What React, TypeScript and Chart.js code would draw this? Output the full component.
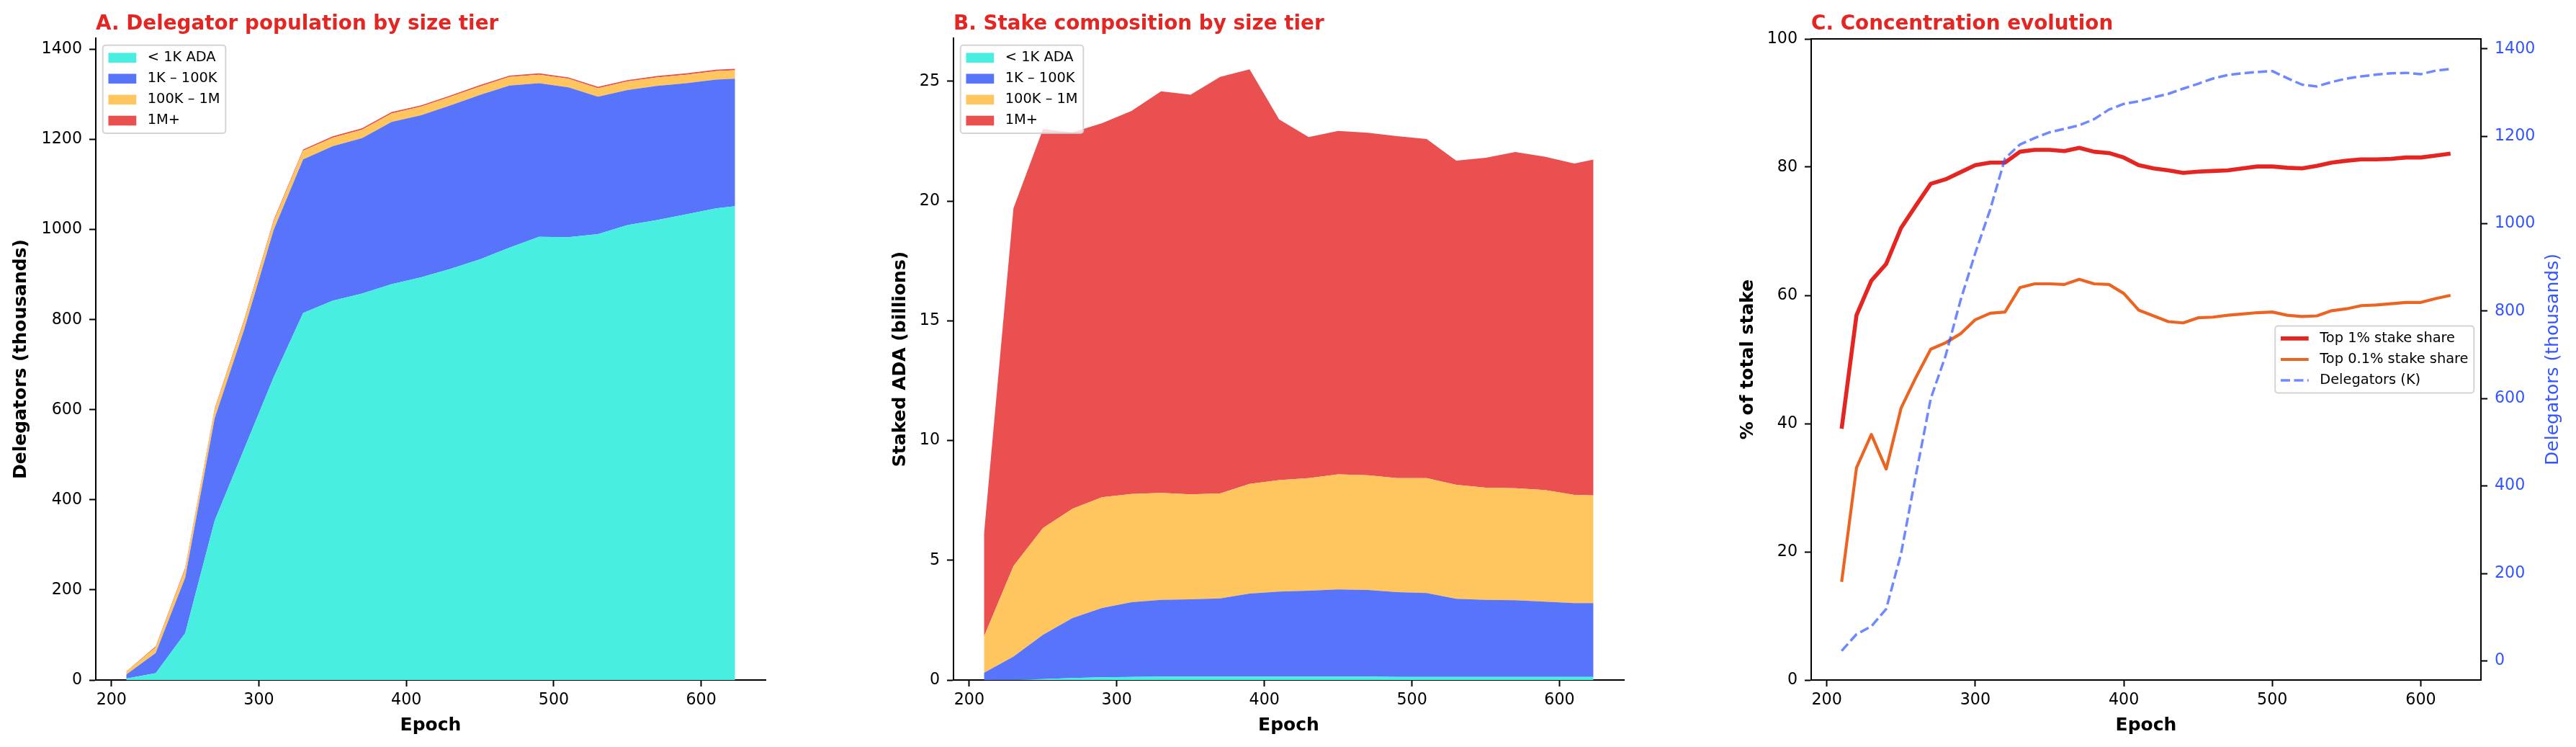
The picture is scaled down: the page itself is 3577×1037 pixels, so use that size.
import React, { useEffect, useRef } from "react";
import Chart from "chart.js/auto";

const FONT = "'DejaVu Sans', 'Liberation Sans', sans-serif";
const HEIGHT = 1037;
const PLOT_BOTTOM = 944;

// tier breakdowns are sampled every 20 epochs (plus the last epoch)
const tierEpochs = [
  210, 230, 250, 270, 290, 310, 330, 350, 370, 390, 410, 430, 450, 470, 490,
  510, 530, 550, 570, 590, 610, 623,
];
const tierLabels = ["< 1K ADA", "1K – 100K", "100K – 1M", "1M+"];

// A. delegators per tier (thousands)
const delegSmall = [
  3, 15, 104, 354, 513, 672, 815, 842, 858, 879, 894, 913, 934, 960, 984, 983,
  990, 1010, 1021, 1034, 1047, 1052,
];
const delegMid = [
  9, 45, 123, 227, 265, 327, 341, 343, 345, 360, 360, 363, 365, 360, 341, 333,
  305, 300, 298, 291, 286, 283,
];
const delegLarge = [
  6, 12.6, 19, 19, 19, 19, 19, 19, 19, 19, 19, 19, 19, 19, 19, 19, 19, 19, 19,
  19, 19, 19,
];
const delegWhale = [
  0.8, 2, 3, 3, 3, 3, 3, 3, 3, 3, 3, 3, 3, 3, 3, 3, 3, 3, 3, 3, 3, 3,
];

// B. staked ADA per tier (billions)
const stakeSmall = [
  0.0, 0.01, 0.04, 0.08, 0.11, 0.13, 0.14, 0.14, 0.14, 0.14, 0.14, 0.14, 0.14,
  0.14, 0.13, 0.13, 0.13, 0.13, 0.13, 0.13, 0.13, 0.13,
];
const stakeMid = [
  0.3, 0.97, 1.85, 2.51, 2.9, 3.12, 3.21, 3.23, 3.27, 3.47, 3.55, 3.59, 3.64,
  3.62, 3.54, 3.5, 3.26, 3.22, 3.2, 3.14, 3.08, 3.08,
];
const stakeLarge = [
  1.51, 3.78, 4.46, 4.56, 4.62, 4.52, 4.46, 4.38, 4.38, 4.58, 4.66, 4.7, 4.81,
  4.79, 4.76, 4.8, 4.76, 4.68, 4.68, 4.66, 4.52, 4.5,
];
const stakeWhale = [
  4.27, 14.94, 16.65, 15.72, 15.62, 15.99, 16.77, 16.69, 17.39, 17.31, 15.06,
  14.24, 14.34, 14.3, 14.28, 14.16, 13.54, 13.78, 14.04, 13.92, 13.84, 14.02,
];

// C. concentration, every 10 epochs
const concEpochs = [
  210, 220, 230, 240, 250, 260, 270, 280, 290, 300, 310, 320, 330, 340, 350,
  360, 370, 380, 390, 400, 410, 420, 430, 440, 450, 460, 470, 480, 490, 500,
  510, 520, 530, 540, 550, 560, 570, 580, 590, 600, 610, 620,
];
const top1Share = [
  39.2, 56.9, 62.3, 64.9, 70.5, 74.0, 77.4, 78.1, 79.2, 80.3, 80.7, 80.7, 82.4,
  82.7, 82.7, 82.5, 83.0, 82.4, 82.2, 81.5, 80.3, 79.8, 79.5, 79.1, 79.3, 79.4,
  79.5, 79.8, 80.1, 80.1, 79.9, 79.8, 80.2, 80.7, 81.0, 81.2, 81.2, 81.3, 81.5,
  81.5, 81.8, 82.1,
];
const top01Share = [
  15.3, 33.1, 38.3, 32.9, 42.4, 47.2, 51.6, 52.6, 54.0, 56.2, 57.2, 57.4, 61.2,
  61.8, 61.8, 61.7, 62.5, 61.8, 61.7, 60.3, 57.7, 56.8, 55.9, 55.7, 56.5, 56.6,
  56.9, 57.1, 57.3, 57.4, 56.9, 56.7, 56.8, 57.6, 57.9, 58.4, 58.5, 58.7, 58.9,
  58.9, 59.5, 60.0,
];
const delegatorsK = [
  23, 61, 79, 119, 245, 425, 600, 698, 824, 933, 1032, 1149, 1181, 1196, 1209,
  1217, 1225, 1239, 1261, 1274, 1280, 1289, 1297, 1309, 1320, 1332, 1340, 1344,
  1347, 1349, 1333, 1318, 1314, 1324, 1332, 1337, 1341, 1344, 1345, 1342, 1350,
  1354,
];

const TIER_COLORS = ["#48eedf", "#5874fa", "#ffc55f", "#ea5050"];
const TITLE_RED = "#e42522";
const TOP1_RED = "#e42522";
const TOP01_ORANGE = "#ec6422";
const AXIS_BLUE = "#3355ff";

const tickFont = { family: FONT, size: 22.2 };
const labelFont = { family: FONT, size: 25, weight: "bold" as const, lineHeight: 1.2 };

const toPoints = (xs: number[], ys: number[]) => xs.map((x, i) => ({ x, y: ys[i] }));

// ticks at every multiple of step inside [min, max]
const fixedTicks = (step: number) => (scale: any) => {
  const out: { value: number }[] = [];
  for (let v = Math.ceil(scale.min / step) * step; v <= scale.max + 1e-9; v += step) {
    out.push({ value: Math.round(v * 1000) / 1000 });
  }
  scale.ticks = out;
};

type LegendEntry = {
  label: string;
  color: string;
  kind: "patch" | "line";
  width?: number;
  dash?: number[];
};

const legendPlugin = (entries: LegendEntry[], anchor: "upper left" | "center right") => ({
  id: "panelLegend",
  afterDraw(chart: any) {
    const { ctx, chartArea } = chart;
    const fs = 19.4;
    const pad = 0.4 * fs;
    const handle = 2 * fs;
    const gap = 0.8 * fs;
    const spacing = 0.5 * fs;
    ctx.save();
    ctx.font = `${fs}px ${FONT}`;
    const textW = Math.max(...entries.map((e) => ctx.measureText(e.label).width));
    const w = pad * 2 + handle + gap + textW;
    const h = pad * 2 + entries.length * fs + (entries.length - 1) * spacing;
    let x = chartArea.left + 0.5 * fs;
    let y = chartArea.top + 0.5 * fs;
    if (anchor === "center right") {
      x = chartArea.right - 0.5 * fs - w;
      y = (chartArea.top + chartArea.bottom) / 2 - h / 2;
    }
    ctx.beginPath();
    ctx.roundRect(x, y, w, h, 4);
    ctx.fillStyle = "rgba(255,255,255,0.8)";
    ctx.fill();
    ctx.lineWidth = 2;
    ctx.strokeStyle = "rgba(204,204,204,0.85)";
    ctx.stroke();
    entries.forEach((e, i) => {
      const cy = y + pad + i * (fs + spacing) + fs / 2;
      const hx = x + pad;
      if (e.kind === "patch") {
        ctx.fillStyle = e.color;
        ctx.fillRect(hx, cy - 0.35 * fs, handle, 0.7 * fs);
      } else {
        ctx.beginPath();
        ctx.setLineDash(e.dash ?? []);
        ctx.lineWidth = e.width ?? 2;
        ctx.strokeStyle = e.color;
        ctx.moveTo(hx, cy);
        ctx.lineTo(hx + handle, cy);
        ctx.stroke();
        ctx.setLineDash([]);
      }
      ctx.fillStyle = "#000";
      ctx.textAlign = "left";
      ctx.textBaseline = "middle";
      ctx.fillText(e.label, hx + handle + gap, cy);
    });
    ctx.restore();
  },
});

const titlePlugin = (text: string) => ({
  id: "panelTitle",
  afterDraw(chart: any) {
    const { ctx, chartArea } = chart;
    ctx.save();
    ctx.font = `bold 27.8px ${FONT}`;
    ctx.fillStyle = TITLE_RED;
    ctx.textAlign = "left";
    ctx.textBaseline = "alphabetic";
    ctx.fillText(text, chartArea.left, 41);
    ctx.restore();
  },
});

// top spine + right-hand label for the twin-axis panel
const twinFramePlugin = (labelX: number) => ({
  id: "twinFrame",
  afterDraw(chart: any) {
    const { ctx, chartArea } = chart;
    ctx.save();
    ctx.strokeStyle = "#000";
    ctx.lineWidth = 2;
    ctx.beginPath();
    ctx.moveTo(chartArea.left - 1, chartArea.top);
    ctx.lineTo(chartArea.right + 1, chartArea.top);
    ctx.stroke();
    ctx.translate(labelX, (chartArea.top + chartArea.bottom) / 2);
    ctx.rotate(-Math.PI / 2);
    ctx.font = `25px ${FONT}`;
    ctx.fillStyle = AXIS_BLUE;
    ctx.textAlign = "center";
    ctx.textBaseline = "middle";
    ctx.fillText("Delegators (thousands)", 0, 0);
    ctx.restore();
  },
});

const epochAxis = (min: number, max: number) => ({
  type: "linear",
  min,
  max,
  afterFit: (s: any) => {
    s.height = HEIGHT - PLOT_BOTTOM;
  },
  afterBuildTicks: fixedTicks(100),
  border: { display: true, color: "#000", width: 2 },
  grid: { drawOnChartArea: false, drawTicks: true, tickLength: 9, tickWidth: 2, tickColor: "#000" },
  ticks: {
    padding: 6,
    color: "#000",
    font: tickFont,
    maxRotation: 0,
    autoSkip: false,
    callback: (v: any) => `${v}`,
  },
  title: {
    display: true,
    text: "Epoch",
    color: "#000",
    font: labelFont,
    padding: { top: 0, bottom: 15 },
  },
});

const valueAxis = (o: {
  max: number;
  min?: number;
  step: number;
  width: number;
  title?: string;
  titleCenter?: number;
  position?: string;
  color?: string;
  stacked?: boolean;
}) => ({
  type: "linear",
  position: o.position ?? "left",
  stacked: o.stacked ?? false,
  min: o.min ?? 0,
  max: o.max,
  afterFit: (s: any) => {
    s.width = o.width;
  },
  afterBuildTicks: fixedTicks(o.step),
  border: { display: true, color: "#000", width: 2 },
  grid: { drawOnChartArea: false, drawTicks: true, tickLength: 9, tickWidth: 2, tickColor: "#000" },
  ticks: {
    padding: 10,
    color: o.color ?? "#000",
    font: tickFont,
    autoSkip: false,
    callback: (v: any) => `${v}`,
  },
  title: {
    display: !!o.title,
    text: o.title ?? "",
    color: "#000",
    font: labelFont,
    padding: { top: (o.titleCenter ?? 15) - 15, bottom: 0 },
  },
});

const areaDatasets = (series: number[][]) =>
  series.map((values, i) => ({
    label: tierLabels[i],
    data: toPoints(tierEpochs, values),
    backgroundColor: TIER_COLORS[i],
    borderColor: "transparent",
    borderWidth: 0,
    pointRadius: 0,
    pointHoverRadius: 0,
    tension: 0,
    fill: i === 0 ? "origin" : "-1",
  }));

const tierLegend: LegendEntry[] = tierLabels.map((label, i) => ({
  label,
  color: TIER_COLORS[i],
  kind: "patch",
}));

const baseOptions = {
  responsive: false,
  animation: false,
  events: [],
  plugins: {
    legend: { display: false },
    title: { display: false },
    tooltip: { enabled: false },
  },
};

const configA = () => ({
  type: "line",
  data: { datasets: areaDatasets([delegSmall, delegMid, delegLarge, delegWhale]) },
  options: {
    ...baseOptions,
    layout: { padding: { left: 0, right: 117, top: 53, bottom: 0 } },
    scales: {
      x: epochAxis(189.35, 643.65),
      y: valueAxis({
        max: 1425,
        step: 200,
        width: 133,
        title: "Delegators (thousands)",
        titleCenter: 29,
        stacked: true,
      }),
    },
  },
  plugins: [titlePlugin("A. Delegator population by size tier"), legendPlugin(tierLegend, "upper left")],
});

const configB = () => ({
  type: "line",
  data: { datasets: areaDatasets([stakeSmall, stakeMid, stakeLarge, stakeWhale]) },
  options: {
    ...baseOptions,
    layout: { padding: { left: 0, right: 115, top: 53, bottom: 0 } },
    scales: {
      x: epochAxis(189.35, 643.65),
      y: valueAxis({
        max: 26.8,
        step: 5,
        width: 144,
        title: "Staked ADA (billions)",
        titleCenter: 70,
        stacked: true,
      }),
    },
  },
  plugins: [titlePlugin("B. Stake composition by size tier"), legendPlugin(tierLegend, "upper left")],
});

const configC = () => ({
  type: "line",
  data: {
    datasets: [
      {
        label: "Top 1% stake share",
        data: toPoints(concEpochs, top1Share),
        borderColor: TOP1_RED,
        borderWidth: 5.6,
        borderJoinStyle: "round",
        pointRadius: 0,
        tension: 0,
        fill: false,
        yAxisID: "y",
        order: 2,
      },
      {
        label: "Top 0.1% stake share",
        data: toPoints(concEpochs, top01Share),
        borderColor: TOP01_ORANGE,
        borderWidth: 4.2,
        borderJoinStyle: "round",
        pointRadius: 0,
        tension: 0,
        fill: false,
        yAxisID: "y",
        order: 1,
      },
      {
        label: "Delegators (K)",
        data: toPoints(concEpochs, delegatorsK),
        borderColor: "rgba(51,85,255,0.7)",
        borderWidth: 3.5,
        borderDash: [13, 5.5],
        borderJoinStyle: "round",
        pointRadius: 0,
        tension: 0,
        fill: false,
        yAxisID: "y1",
        order: 0,
      },
    ],
  },
  options: {
    ...baseOptions,
    layout: { padding: { left: 0, right: 0, top: 54, bottom: 0 } },
    scales: {
      x: epochAxis(189.5, 640.5),
      y: valueAxis({
        max: 100,
        step: 20,
        width: 145,
        title: "% of total stake",
        titleCenter: 57,
      }),
      y1: valueAxis({
        min: -43.65,
        max: 1422.65,
        step: 200,
        width: 132,
        position: "right",
        color: AXIS_BLUE,
      }),
    },
  },
  plugins: [
    titlePlugin("C. Concentration evolution"),
    legendPlugin(
      [
        { label: "Top 1% stake share", color: TOP1_RED, kind: "line", width: 5.6 },
        { label: "Top 0.1% stake share", color: TOP01_ORANGE, kind: "line", width: 4.2 },
        { label: "Delegators (K)", color: "rgba(51,85,255,0.7)", kind: "line", width: 3.5, dash: [13, 5.5] },
      ],
      "center right"
    ),
    twinFramePlugin(1175),
  ],
});

const Panel: React.FC<{ left: number; width: number; config: () => any }> = ({
  left,
  width,
  config,
}) => {
  const canvasRef = useRef<HTMLCanvasElement | null>(null);

  useEffect(() => {
    const canvas = canvasRef.current;
    if (!canvas) return;
    const chart = new Chart(canvas, config());
    return () => {
      chart.destroy();
    };
  }, []);

  return (
    <canvas
      ref={canvasRef}
      width={width}
      height={HEIGHT}
      style={{ position: "absolute", left, top: 0, width, height: HEIGHT }}
    ></canvas>
  );
};

export default function App() {
  Chart.defaults.font.family = FONT;
  return (
    <div
      style={{
        position: "absolute",
        left: 0,
        top: 0,
        width: 3577,
        height: HEIGHT,
        background: "#fff",
        overflow: "hidden",
      }}
    >
      <Panel left={0} width={1180} config={configA} />
      <Panel left={1180} width={1190} config={configB} />
      <Panel left={2370} width={1207} config={configC} />
    </div>
  );
}
